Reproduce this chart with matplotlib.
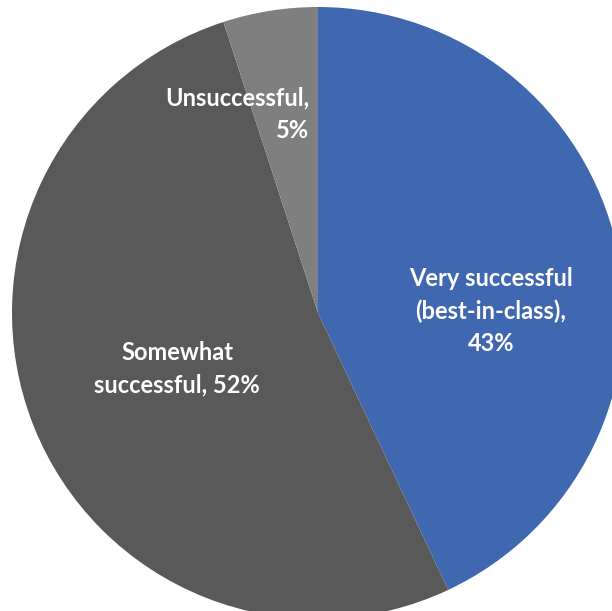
import matplotlib
matplotlib.use("Agg")
import matplotlib.pyplot as plt

labels = ["Very successful\n(best-in-class),\n43%", "Somewhat\nsuccessful, 52%", "Unsuccessful,\n5%"]
shares = [43, 52, 5]
colors = ["#4068B0", "#595959", "#7F7F7F"]

W, H = 612, 611
cx, cy, r = 318, 313, 306  # pie centre and radius in pixels (from top-left)

fig = plt.figure(figsize=(W / 100, H / 100), dpi=100)
ax = fig.add_axes([(cx - r) / W, (H - cy - r) / H, 2 * r / W, 2 * r / H])
ax.pie(shares, colors=colors, startangle=90, counterclock=False, radius=1,
       wedgeprops=dict(linewidth=0))
ax.set_xlim(-1, 1)
ax.set_ylim(-1, 1)
ax.set_aspect("equal")
ax.axis("off")


def px(x, y):
    return (x - cx) / r, (cy - y) / r


font = dict(color="white", fontsize=17, fontweight="bold", family="Lato", linespacing=1.5)
ax.text(*px(491, 311), labels[0], ha="center", va="center", **font)
ax.text(*px(177, 369), labels[1], ha="center", va="center", **font)
ax.text(*px(309, 114), labels[2], ha="right", va="center", multialignment="right", **font)

fig.savefig("out.png", dpi=100)
